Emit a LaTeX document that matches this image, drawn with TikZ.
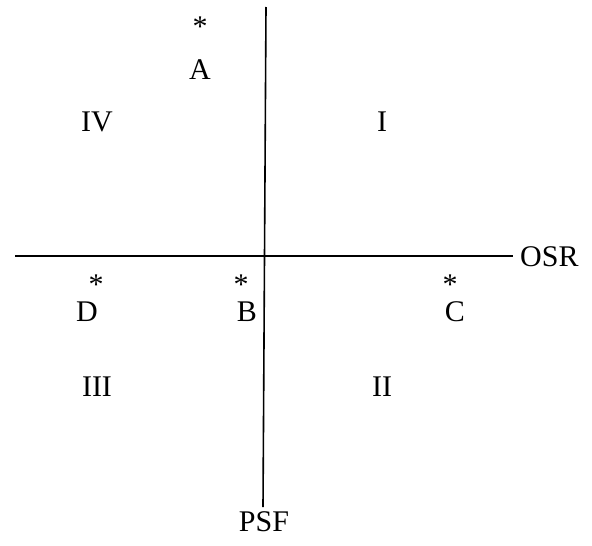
\documentclass[tikz,border=0pt]{standalone}
\usepackage{fontspec}
\setmainfont{Liberation Serif}
\begin{document}
\begin{tikzpicture}[x=1pt,y=-1pt,
  lbl/.style={inner sep=0pt, anchor=center, font=\fontsize{30}{36}\selectfont},
  star/.style={inner sep=0pt, anchor=base, font=\fontsize{30}{36}\selectfont},
  axis/.style={line width=1.6pt, line cap=butt}]
\useasboundingbox (0,0) rectangle (592,546);
\coordinate (vtop) at (266,7);
\coordinate (vbot) at (263,507);
\coordinate (hleft) at (15,256);
\coordinate (hright) at (513,256);
\draw[axis] (vtop) -- (vbot);
\draw[axis] (hleft) -- (hright);
\node[lbl, anchor=west] (osr) at (520,257) {OSR};
\node[lbl] (psf) at (264,522) {PSF};
\node[star] (sa) at (200,36) {*};
\node[lbl] (a) at (200,70) {A};
\node[lbl] (iv) at (97,122) {IV};
\node[lbl] (i) at (382,122) {I};
\node[star] (sd) at (96,294) {*};
\node[lbl] (d) at (87,312) {D};
\node[star] (sb) at (241,294) {*};
\node[lbl] (b) at (247,312) {B};
\node[star] (sc) at (450,294) {*};
\node[lbl] (c) at (455,312) {C};
\node[lbl] (iii) at (97,387) {III};
\node[lbl] (ii) at (382,387) {II};
\end{tikzpicture}
\end{document}
